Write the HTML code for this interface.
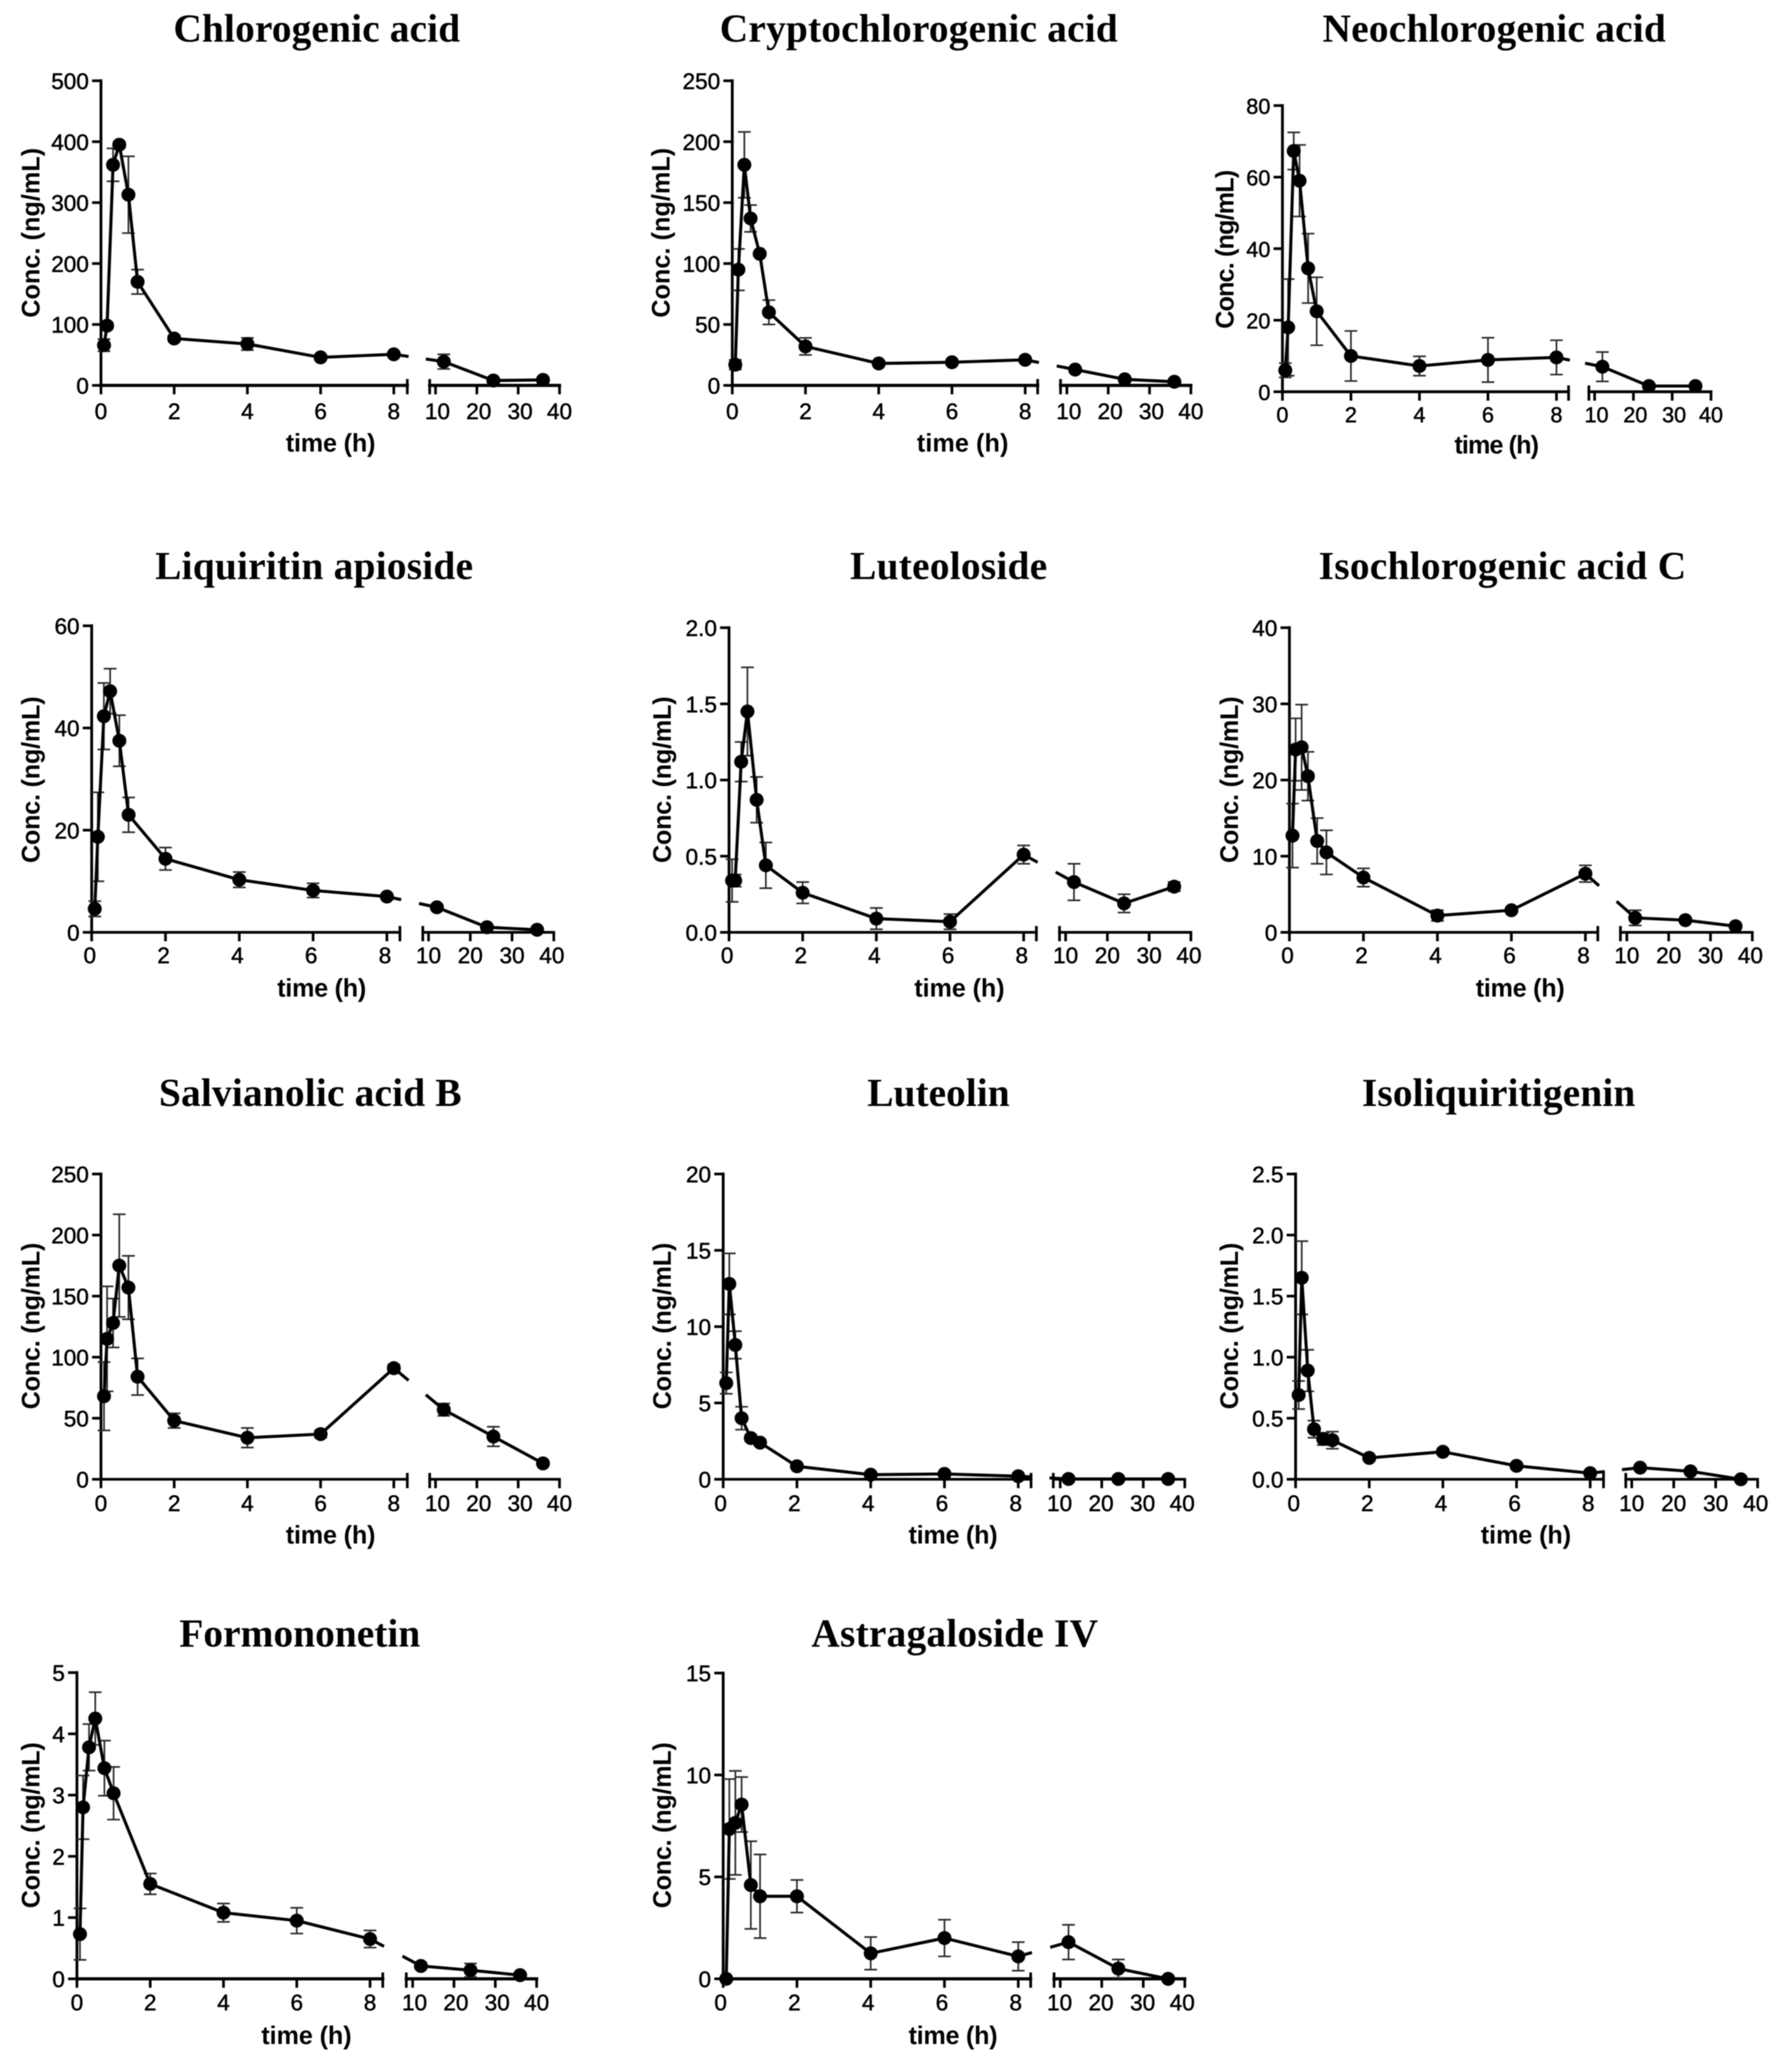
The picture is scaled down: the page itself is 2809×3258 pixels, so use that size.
<!DOCTYPE html>
<html lang="en">
<head>
<meta charset="utf-8">
<title>Plasma concentration-time profiles</title>
<style>
html,body{margin:0;padding:0;background:#fff;width:2809px;height:3258px;overflow:hidden}
svg{display:block}
text{font-family:"Liberation Sans",Arial,sans-serif;fill:#000}
.title{font-family:"Liberation Serif","Times New Roman",serif;font-weight:700;font-size:62px}
.tick{font-size:35px;stroke:#000;stroke-width:.7px}
.axis-title{font-weight:700;font-size:39.5px}
</style>
</head>
<body>
<svg id="fig" xmlns="http://www.w3.org/2000/svg" width="2809" height="3258" viewBox="0 0 2809 3258"></svg>
<script>
// ---- shared data ----
const timePoints = [0.083, 0.167, 0.33, 0.5, 0.75, 1, 2, 4, 6, 8, 12, 24, 36];
const xTicksLeft = [0, 2, 4, 6, 8];
const xTicksRight = [10, 20, 30, 40];

// ---- y tick labels ----
const yTicksChlorogenic = ['0', '100', '200', '300', '400', '500'];
const yTicksCrypto = ['0', '50', '100', '150', '200', '250'];
const yTicksNeo = ['0', '20', '40', '60', '80'];
const yTicksLiquiritin = ['0', '20', '40', '60'];
const yTicksLuteoloside = ['0.0', '0.5', '1.0', '1.5', '2.0'];
const yTicksIsoC = ['0', '10', '20', '30', '40'];
const yTicksSalvianolic = ['0', '50', '100', '150', '200', '250'];
const yTicksLuteolin = ['0', '5', '10', '15', '20'];
const yTicksIsoliq = ['0.0', '0.5', '1.0', '1.5', '2.0', '2.5'];
const yTicksFormononetin = ['0', '1', '2', '3', '4', '5'];
const yTicksAstragaloside = ['0', '5', '10', '15'];

// ---- series means and standard deviations ----
const meanChlorogenic = [66, 98, 362, 395, 313, 170, 77, 68, 46, 51, 39, 8, 9];
const sdChlorogenic = [10, 5, 27, 5, 63, 20, 5, 10, 3, 3, 12, 3, 2];
const meanCrypto = [17, 95, 181, 137, 108, 60, 32, 18, 19, 21, 13, 5, 3];
const sdCrypto = [4, 17, 27, 11, 2, 10, 7, 2, 2, 2, 2, 1, 1];
const meanNeo = [6, 18, 67.3, 59, 34.5, 22.5, 10, 7.2, 8.9, 9.6, 7, 1.6, 1.6];
const sdNeo = [2, 13.5, 5.2, 10, 9.7, 9.5, 7, 2.7, 6.2, 4.8, 4.1, 0.5, 0.5];
const meanLiquiritin = [4.6, 18.7, 42.3, 47.2, 37.5, 23, 14.4, 10.3, 8.2, 7, 4.9, 1, 0.5];
const sdLiquiritin = [1.5, 8.7, 6.5, 4.4, 5, 3.4, 2.2, 1.5, 1.4, 0.5, 0.5, 0.3, 0.3];
const meanLuteoloside = [0.34, 0.34, 1.12, 1.45, 0.87, 0.44, 0.26, 0.09, 0.07, 0.51, 0.33, 0.19, 0.30];
const sdLuteoloside = [0.14, 0.04, 0.13, 0.29, 0.15, 0.15, 0.07, 0.07, 0.05, 0.06, 0.12, 0.06, 0.03];
const meanIsoC = [12.7, 24, 24.3, 20.5, 12, 10.5, 7.2, 2.2, 2.9, 7.7, 1.9, 1.6, 0.8];
const sdIsoC = [4.2, 4.1, 5.6, 3.2, 3, 2.9, 1.2, 0.7, 0.3, 1.1, 1, 0.3, 0.2];
const meanSalvianolic = [68, 115, 128, 175, 157, 84, 48, 34, 37, 91, 57, 35, 13];
const sdSalvianolic = [28, 43, 20, 42, 26, 15, 6, 8, 3, 3, 5, 8, 2];
const meanLuteolin = [6.3, 12.8, 8.8, 4, 2.7, 2.4, 0.85, 0.3, 0.35, 0.2, 0.02, 0.02, 0.02];
const sdLuteolin = [0.7, 2, 0.9, 0.75, 0.2, 0.2, 0.1, 0.1, 0.1, 0.1, 0, 0, 0];
const meanIsoliq = [0.69, 1.65, 0.89, 0.41, 0.33, 0.32, 0.175, 0.225, 0.11, 0.05, 0.095, 0.065, 0];
const sdIsoliq = [0.115, 0.3, 0.17, 0.07, 0.05, 0.07, 0.02, 0.02, 0.02, 0.01, 0.01, 0.02, 0.005];
const meanFormononetin = [0.73, 2.8, 3.78, 4.25, 3.44, 3.03, 1.55, 1.08, 0.95, 0.65, 0.21, 0.14, 0.06];
const sdFormononetin = [0.42, 0.52, 0.38, 0.43, 0.45, 0.43, 0.17, 0.15, 0.21, 0.14, 0.05, 0.11, 0.02];
const meanAstragaloside = [0, 7.35, 7.65, 8.55, 4.6, 4.05, 4.05, 1.25, 2, 1.1, 1.8, 0.5, 0];
const sdAstragaloside = [0, 2.45, 2.55, 1.35, 2.15, 2.05, 0.8, 0.8, 0.9, 0.7, 0.85, 0.45, 0];

// ---- panel layout: axes geometry in pixels, separate from data ----
const panels = [
 {key:'chlorogenic-acid',title:'Chlorogenic acid',mean:meanChlorogenic,sd:sdChlorogenic,yt:yTicksChlorogenic,
  x0:158.8,x8:619.4,xe:640.6,xs:675.8,x10:685,x40:880,y0:606,yt0:127,tl:272.7,tw:451,tb:65.5,dx:0,xb:53,yl:62,ylc:366,yll:267,xlc:520,xlb:710,xlw:141,fs:35.5,ax:5},
 {key:'cryptochlorogenic-acid',title:'Cryptochlorogenic acid',mean:meanCrypto,sd:sdCrypto,yt:yTicksCrypto,
  x0:1151.7,x8:1612.4,xe:1632,xs:1668,x10:1678,x40:1873,y0:606,yt0:127,tl:1132,tw:626,tb:65.5,dx:0,xb:53,yl:1053,ylc:366,yll:267,xlc:1514,xlb:710,xlw:144,fs:35.5,ax:5},
 {key:'neochlorogenic-acid',title:'Neochlorogenic acid',mean:meanNeo,sd:sdNeo,yt:yTicksNeo,
  x0:2017,x8:2448,xe:2467,xs:2499,x10:2508,x40:2691,y0:616,yt0:166,tl:2080,tw:540,tb:65.5,dx:0,xb:48,yl:1940,ylc:392,yll:250,xlc:2354,xlb:713,xlw:133,fs:34,ax:4.5},
 {key:'liquiritin-apioside',title:'Liquiritin apioside',mean:meanLiquiritin,sd:sdLiquiritin,yt:yTicksLiquiritin,
  x0:144.2,x8:608.5,xe:629,xs:665,x10:674,x40:871,y0:1466,yt0:984,tl:244,tw:500,tb:910.6,dx:-3,xb:48.4,yl:62,ylc:1226,yll:262,xlc:506,xlb:1567,xlw:140,fs:35.5,ax:4.2},
 {key:'luteoloside',title:'Luteoloside',mean:meanLuteoloside,sd:sdLuteoloside,yt:yTicksLuteoloside,
  x0:1146.6,x8:1610,xe:1630,xs:1666.4,x10:1676,x40:1873,y0:1466,yt0:987,tl:1337,tw:310,tb:910.6,dx:-3,xb:48.4,yl:1055,ylc:1226,yll:262,xlc:1509,xlb:1567,xlw:142,fs:35.5,ax:4.2},
 {key:'isochlorogenic-acid-c',title:'Isochlorogenic acid C',mean:meanIsoC,sd:sdIsoC,yt:yTicksIsoC,
  x0:2028,x8:2493.5,xe:2513,xs:2548.6,x10:2558.7,x40:2756,y0:1466,yt0:987,tl:2074,tw:578,tb:910.6,dx:-3,xb:48.4,yl:1947,ylc:1226,yll:262,xlc:2391,xlb:1567,xlw:140,fs:35.5,ax:4.2},
 {key:'salvianolic-acid-b',title:'Salvianolic acid B',mean:meanSalvianolic,sd:sdSalvianolic,yt:yTicksSalvianolic,
  x0:158.8,x8:619.4,xe:640.6,xs:675.8,x10:685,x40:880,y0:2326,yt0:1846,tl:250,tw:476,tb:1739,dx:0,xb:50,yl:62,ylc:2085,yll:262,xlc:520,xlb:2427,xlw:141,fs:35.5,ax:4.2},
 {key:'luteolin',title:'Luteolin',mean:meanLuteolin,sd:sdLuteolin,yt:yTicksLuteolin,
  x0:1137.4,x8:1601.5,xe:1621.6,xs:1656.6,x10:1667.5,x40:1863.4,y0:2326,yt0:1846,tl:1364,tw:224,tb:1739,dx:-4,xb:50,yl:1055,ylc:2085,yll:262,xlc:1499,xlb:2427,xlw:140,fs:35.5,ax:4.2},
 {key:'isoliquiritigenin',title:'Isoliquiritigenin',mean:meanIsoliq,sd:sdIsoliq,yt:yTicksIsoliq,
  x0:2037.7,x8:2501,xe:2522,xs:2557,x10:2566.4,x40:2764.4,y0:2326,yt0:1846,tl:2142,tw:430,tb:1739,dx:-3,xb:50,yl:1947,ylc:2085,yll:262,xlc:2400,xlb:2427,xlw:142,fs:35.5,ax:4.2},
 {key:'formononetin',title:'Formononetin',mean:meanFormononetin,sd:sdFormononetin,yt:yTicksFormononetin,
  x0:121,x8:582,xe:602,xs:639,x10:649,x40:844,y0:3111.5,yt0:2630,tl:282,tw:379,tb:2589,dx:0,xb:49.5,yl:62,ylc:2870,yll:261,xlc:482,xlb:3214,xlw:142,fs:35.5,ax:5},
 {key:'astragaloside-iv',title:'Astragaloside IV',mean:meanAstragaloside,sd:sdAstragaloside,yt:yTicksAstragaloside,
  x0:1137.4,x8:1601.5,xe:1621,xs:1657.8,x10:1667.5,x40:1863.4,y0:3111.5,yt0:2630.7,tl:1276,tw:451,tb:2589,dx:-4,xb:49.5,yl:1055,ylc:2870,yll:261,xlc:1499,xlb:3214,xlw:140,fs:35.5,ax:5}
];

const NS = 'http://www.w3.org/2000/svg';
const root = document.getElementById('fig');

function make(tag, parent, props, txt) {
  const el = document.createElementNS(NS, tag);
  for (const k in props) el.setAttribute(k, props[k]);
  if (txt !== undefined) el.textContent = txt;
  parent.appendChild(el);
  return el;
}

function xScale(p, t) {
  return t <= 8 ? p.x0 + (p.x8 - p.x0) * t / 8 : p.x10 + (p.x40 - p.x10) * (t - 10) / 30;
}
function yScale(p, v, maxV) {
  return p.y0 - (p.y0 - p.yt0) * v / maxV;
}

const soft = make('g', root, {style: 'filter:blur(0.8px)'});



panels.forEach(function (p) {
  const labels = p.yt;
  const maxV = parseFloat(labels[labels.length - 1]);
  const X = function (t) { return xScale(p, t); };
  const Y = function (v) { return yScale(p, v, maxV); };

  const g = make('g', soft, {});
  
  

  const title = make('text', g, {class: 'title', x: p.tl, y: p.tb, textLength: p.tw, lengthAdjust: 'spacing'}, p.title);
  
  

  const ylab = make('text', g, {class: 'axis-title', 'text-anchor': 'middle', x: 0, y: 0, textLength: p.yll, lengthAdjust: 'spacing', transform: 'translate(' + p.yl + ',' + p.ylc + ') rotate(-90)'}, 'Conc. (ng/mL)');
  
  

  const xlab = make('text', g, {class: 'axis-title', x: p.xlc - p.xlw / 2, y: p.xlb, textLength: p.xlw, lengthAdjust: 'spacing'}, 'time (h)');
  
  

  const axisAttrs = {stroke: '#000', 'stroke-width': 4.4, fill: 'none', 'stroke-linecap': 'square'};

  const yAxis = make('line', g, Object.assign({x1: p.x0, x2: p.x0, y1: p.yt0, y2: p.y0}, axisAttrs));
  
  

  labels.forEach(function (lab) {
    const v = parseFloat(lab);
    const tick = make('line', g, {x1: p.x0 - 14, x2: p.x0, y1: Y(v), y2: Y(v), stroke: '#000', 'stroke-width': 4.2});
    
    
    const tl = make('text', g, {class: 'tick', 'text-anchor': 'end', x: p.x0 - 19, y: Y(v) + 13, style: 'font-size:' + p.fs + 'px'}, lab);
    
    
  });

  const xAxisLeft = make('line', g, Object.assign({}, axisAttrs, {x1: p.x0, x2: p.xe, y1: p.y0, y2: p.y0, 'stroke-width': p.ax}));
  
  

  const xAxisRight = make('line', g, Object.assign({}, axisAttrs, {x1: p.xs, x2: p.x40, y1: p.y0, y2: p.y0, 'stroke-width': p.ax}));
  
  

  [p.xe, p.xs].forEach(function (bx) {
    const cap = make('line', g, {x1: bx, x2: bx, y1: p.y0 - 10, y2: p.y0 + 14, stroke: '#000', 'stroke-width': 4.2});
    
    
  });

  xTicksLeft.concat(xTicksRight).forEach(function (t) {
    const tx = X(t);
    const tick = make('line', g, {x1: tx, x2: tx, y1: p.y0, y2: p.y0 + 14, stroke: '#000', 'stroke-width': 4.2});
    
    
    const shift = t >= 10 && t < 40 ? 3 : 0;
    const tl = make('text', g, {class: 'tick', 'text-anchor': 'middle', x: tx + p.dx + shift, y: p.y0 + p.xb, style: 'font-size:' + p.fs + 'px'}, String(t));
    
    
  });

  timePoints.forEach(function (t, i) {
    const ex = X(t);
    const hi = Y(p.mean[i] + p.sd[i]);
    const lo = Y(Math.max(p.mean[i] - p.sd[i], 0));
    const errorPath = make('path', g, {d: 'M' + ex + ' ' + lo + 'V' + hi + 'M' + (ex - 10) + ' ' + hi + 'H' + (ex + 10) + 'M' + (ex - 10) + ' ' + lo + 'H' + (ex + 10), stroke: '#2a2a2a', 'stroke-width': 2.6, fill: 'none'});
    
    
  });

  const breakIdx = timePoints.indexOf(8);
  const before = [];
  const after = [];
  timePoints.forEach(function (t, i) {
    (i <= breakIdx ? before : after).push([X(t), Y(p.mean[i])]);
  });
  const a = before[before.length - 1];
  const b = after[0];
  const lerpY = function (x) { return a[1] + (b[1] - a[1]) * (x - a[0]) / (b[0] - a[0]); };
  before.push([p.xe + 2, lerpY(p.xe + 2)]);
  after.unshift([p.xs - 6, lerpY(p.xs - 6)]);

  [before, after].forEach(function (pts) {
    const line = make('polyline', g, {points: pts.map(function (q) { return q[0] + ',' + q[1]; }).join(' '), fill: 'none', stroke: '#000', 'stroke-width': 4.8, 'stroke-linejoin': 'round'});
    
    
  });

  timePoints.forEach(function (t, i) {
    const dot = make('circle', g, {cx: X(t), cy: Y(p.mean[i]), r: 11, fill: '#000'});
    
    
  });
});
</script>
</body>
</html>
